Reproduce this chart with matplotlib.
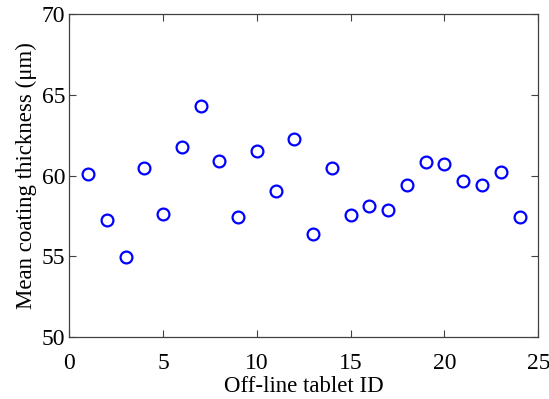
import matplotlib.pyplot as plt

tablet_id = list(range(1, 25))
thickness = [60.1, 57.25, 54.95, 60.5, 57.6, 61.75, 64.3, 60.9, 57.45, 61.5, 59.05, 62.25,
             56.4, 60.45, 57.55, 58.15, 57.85, 59.45, 60.85, 60.7, 59.7, 59.4, 60.25, 57.45]

plt.rcParams['font.family'] = ['Liberation Serif', 'DejaVu Serif']

fig = plt.figure(figsize=(5.49, 3.99), dpi=100)
ax = fig.add_axes([0.1262, 0.1546, 0.8543, 0.8103])

ax.plot(tablet_id, thickness, 'o', markersize=8.5, markerfacecolor='none',
        markeredgecolor='#0000ff', markeredgewidth=1.6)

ax.set_xlim(0, 25)
ax.set_ylim(50, 70)
ax.set_xticks([0, 5, 10, 15, 20, 25])
ax.set_yticks([50, 55, 60, 65, 70])
ax.tick_params(direction='in', top=True, right=True, length=5, width=0.8,
               color='#404040', labelsize=17)
ax.tick_params(axis='x', pad=11)
ax.tick_params(axis='y', pad=3)
for s in ax.spines.values():
    s.set_color('#404040')
    s.set_linewidth(0.9)

ax.set_xlabel('Off-line tablet ID', fontsize=16.5, labelpad=2)
ax.set_ylabel('Mean coating thickness (\u03bcm)', fontsize=16.5, labelpad=3)

fig.savefig('out.png', dpi=100)
